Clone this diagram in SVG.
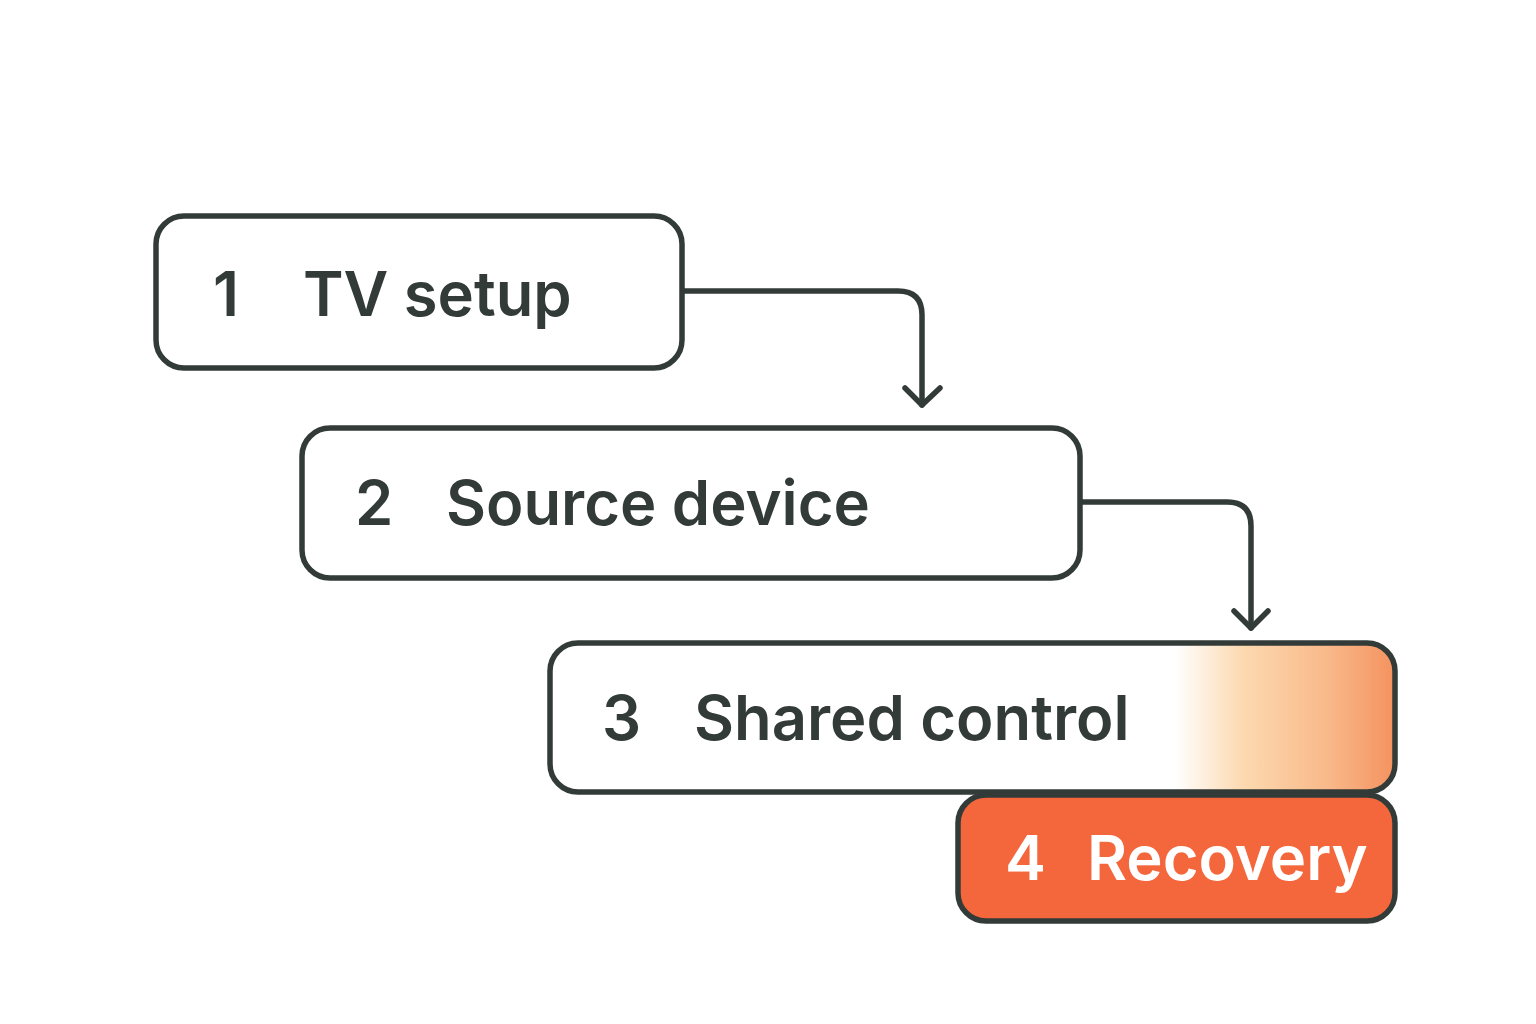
<svg xmlns="http://www.w3.org/2000/svg" width="1536" height="1024" viewBox="0 0 1536 1024">
<defs>
<style>
.box{stroke:#333b38;stroke-width:5.5;}
.lbl{font-family:Inter,"Noto Sans",sans-serif;font-weight:600;font-size:61.5px;fill:#333b38;}
.wl{fill:#ffffff;}
.conn{fill:none;stroke:#333b38;stroke-width:5.5;stroke-linecap:round;stroke-linejoin:round;}
</style>
<linearGradient id="g3" gradientUnits="userSpaceOnUse" x1="550" y1="0" x2="1395" y2="0">
<stop offset="0" stop-color="#ffffff"/>
<stop offset="0.74" stop-color="#ffffff"/>
<stop offset="0.82" stop-color="#fcd9b0"/>
<stop offset="0.92" stop-color="#f9b98a"/>
<stop offset="1" stop-color="#f4925f"/>
</linearGradient>
</defs>
<rect width="1536" height="1024" fill="#ffffff"/>
<g id="connectors">
<path class="conn" d="M684 291 H898 Q922 291 922 315 V405"/>
<path class="conn" d="M905 388 L922 405 L940 388"/>
<path class="conn" d="M1082 502 H1227 Q1251 502 1251 526 V628"/>
<path class="conn" d="M1234 611 L1251 628 L1268 611"/>
</g>
<g id="node1">
<rect class="box" x="156" y="216" width="526" height="152" rx="28" fill="#ffffff"/>
<text class="lbl" x="213" y="316">1</text>
<text class="lbl" x="303" y="316">TV setup</text>
</g>
<g id="node2">
<rect class="box" x="302" y="428" width="778" height="150" rx="28" fill="#ffffff"/>
<text class="lbl" x="355" y="525">2</text>
<text class="lbl" x="446" y="525">Source device</text>
</g>
<g id="node3">
<rect class="box" x="550" y="643" width="845" height="149" rx="28" fill="url(#g3)"/>
<text class="lbl" x="602" y="740">3</text>
<text class="lbl" x="694" y="740">Shared control</text>
</g>
<g id="node4">
<rect class="box" x="958" y="795" width="437" height="126" rx="28" fill="#f4673c"/>
<text class="lbl wl" x="1005" y="880">4</text>
<text class="lbl wl" x="1087" y="880">Recovery</text>
</g>
</svg>
